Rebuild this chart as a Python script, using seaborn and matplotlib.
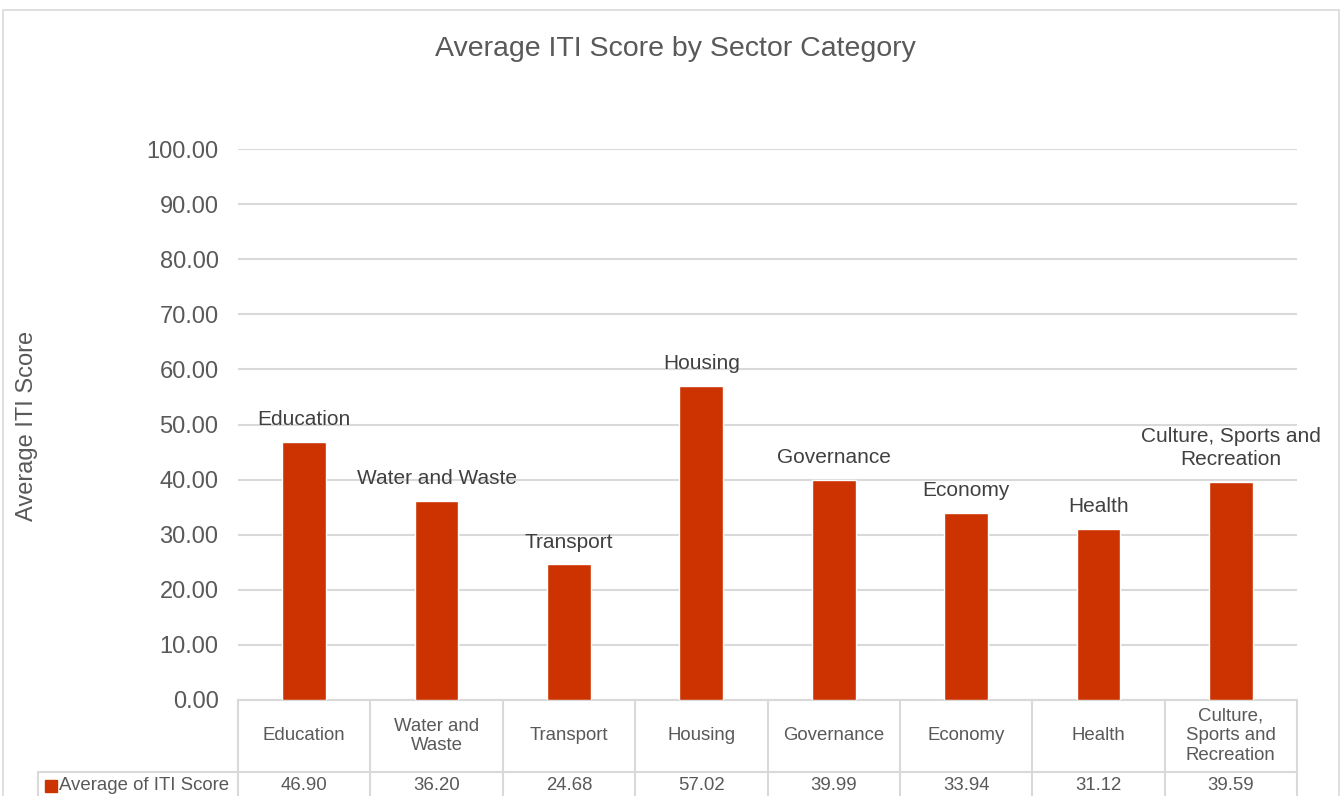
import matplotlib
matplotlib.use("Agg")
import matplotlib.pyplot as plt
import matplotlib.transforms as mtransforms
from matplotlib.patches import Rectangle
import seaborn as sns

# Chart data
categories = ["Education", "Water and Waste", "Transport", "Housing",
              "Governance", "Economy", "Health", "Culture, Sports and Recreation"]
bar_labels = ["Education", "Water and Waste", "Transport", "Housing",
              "Governance", "Economy", "Health", "Culture, Sports and\nRecreation"]
table_labels = ["Education", "Water and\nWaste", "Transport", "Housing",
                "Governance", "Economy", "Health", "Culture,\nSports and\nRecreation"]
scores = [46.90, 36.20, 24.68, 57.02, 39.99, 33.94, 31.12, 39.59]
series_name = "Average of ITI Score"
y_ticks = [0, 10, 20, 30, 40, 50, 60, 70, 80, 90, 100]

BAR = "#CC3300"
TEXT = "#595959"
GRID = "#D9D9D9"

sns.set_theme(style="white")
plt.rcParams["font.family"] = ["Liberation Sans", "DejaVu Sans"]

W, H = 1344, 796
fig = plt.figure(figsize=(W / 100, H / 100), dpi=100)
ax = fig.add_axes([238 / W, 1 - 700 / H, (1297 - 238) / W, (700 - 149) / H])

sns.barplot(x=categories, y=scores, color=BAR, saturation=1, width=0.33,
            ax=ax, zorder=3)

ax.set_xlim(-0.5, len(categories) - 0.5)
ax.set_ylim(0, 100)
ax.set_yticks(y_ticks)
ax.set_yticklabels([f"{t:.2f}" for t in y_ticks], color=TEXT, fontsize=17)
ax.set_xticks([])
ax.set_xlabel("")
ax.set_ylabel("")
ax.tick_params(axis="y", length=0, pad=14)
for s in ax.spines.values():
    s.set_visible(False)
ax.yaxis.grid(True, color=GRID, linewidth=1.5, zorder=0)
ax.set_axisbelow(True)

# Category names above each bar
for i, (lab, v) in enumerate(zip(bar_labels, scores)):
    ax.annotate(lab, (i, v), xytext=(0, 9), textcoords="offset points",
                ha="center", va="bottom", fontsize=15, color="#404040",
                linespacing=1.3)

# Data table below the plot
trans = mtransforms.blended_transform_factory(ax.transData, ax.transAxes)
ax_h = 700 - 149
n = len(categories)
col_px = (1297 - 238) / n
row1 = -(772 - 700) / ax_h
row_end = -(830 - 700) / ax_h
hdr_left = -0.5 - (238 - 38) / col_px

lkw = dict(color=GRID, linewidth=1.5, transform=trans, clip_on=False, zorder=1)
ax.plot([-0.5, n - 0.5], [0, 0], **lkw)
ax.plot([hdr_left, n - 0.5], [row1, row1], **lkw)
for k in range(n + 1):
    ax.plot([k - 0.5, k - 0.5], [0, row_end], **lkw)
ax.plot([hdr_left, hdr_left], [row1, row_end], **lkw)

val_y = -(786 - 700) / ax_h
tkw = dict(transform=trans, ha="center", va="center", fontsize=13.4,
           color=TEXT, clip_on=False, linespacing=1.2)
for i, (lab, v) in enumerate(zip(table_labels, scores)):
    ax.text(i, row1 / 2, lab, **tkw)
    ax.text(i, val_y, f"{v:.2f}", **tkw)

# Row header with series key
ax.plot([hdr_left + (51 - 38) / col_px], [val_y], marker="s",
        markersize=8.5, color=BAR, transform=trans, clip_on=False,
        linestyle="none")
ax.text(hdr_left + (59 - 38) / col_px, val_y, series_name,
        transform=trans, ha="left", va="center", fontsize=13.4, color=TEXT,
        clip_on=False)

# Title, axis label and chart border
fig.text(675 / W, 1 - 49 / H, "Average ITI Score by Sector Category",
         ha="center", va="center", fontsize=20.5, color=TEXT)
fig.text(27 / W, 1 - 426 / H, "Average ITI Score", rotation=90,
         ha="center", va="center", fontsize=17, color=TEXT)
fig.patches.append(Rectangle((3 / W, -0.1), (1339 - 3) / W, 1.1 - 10 / H,
                             transform=fig.transFigure, fill=False,
                             edgecolor=GRID, linewidth=1.2))

fig.savefig("out.png", dpi=100)
